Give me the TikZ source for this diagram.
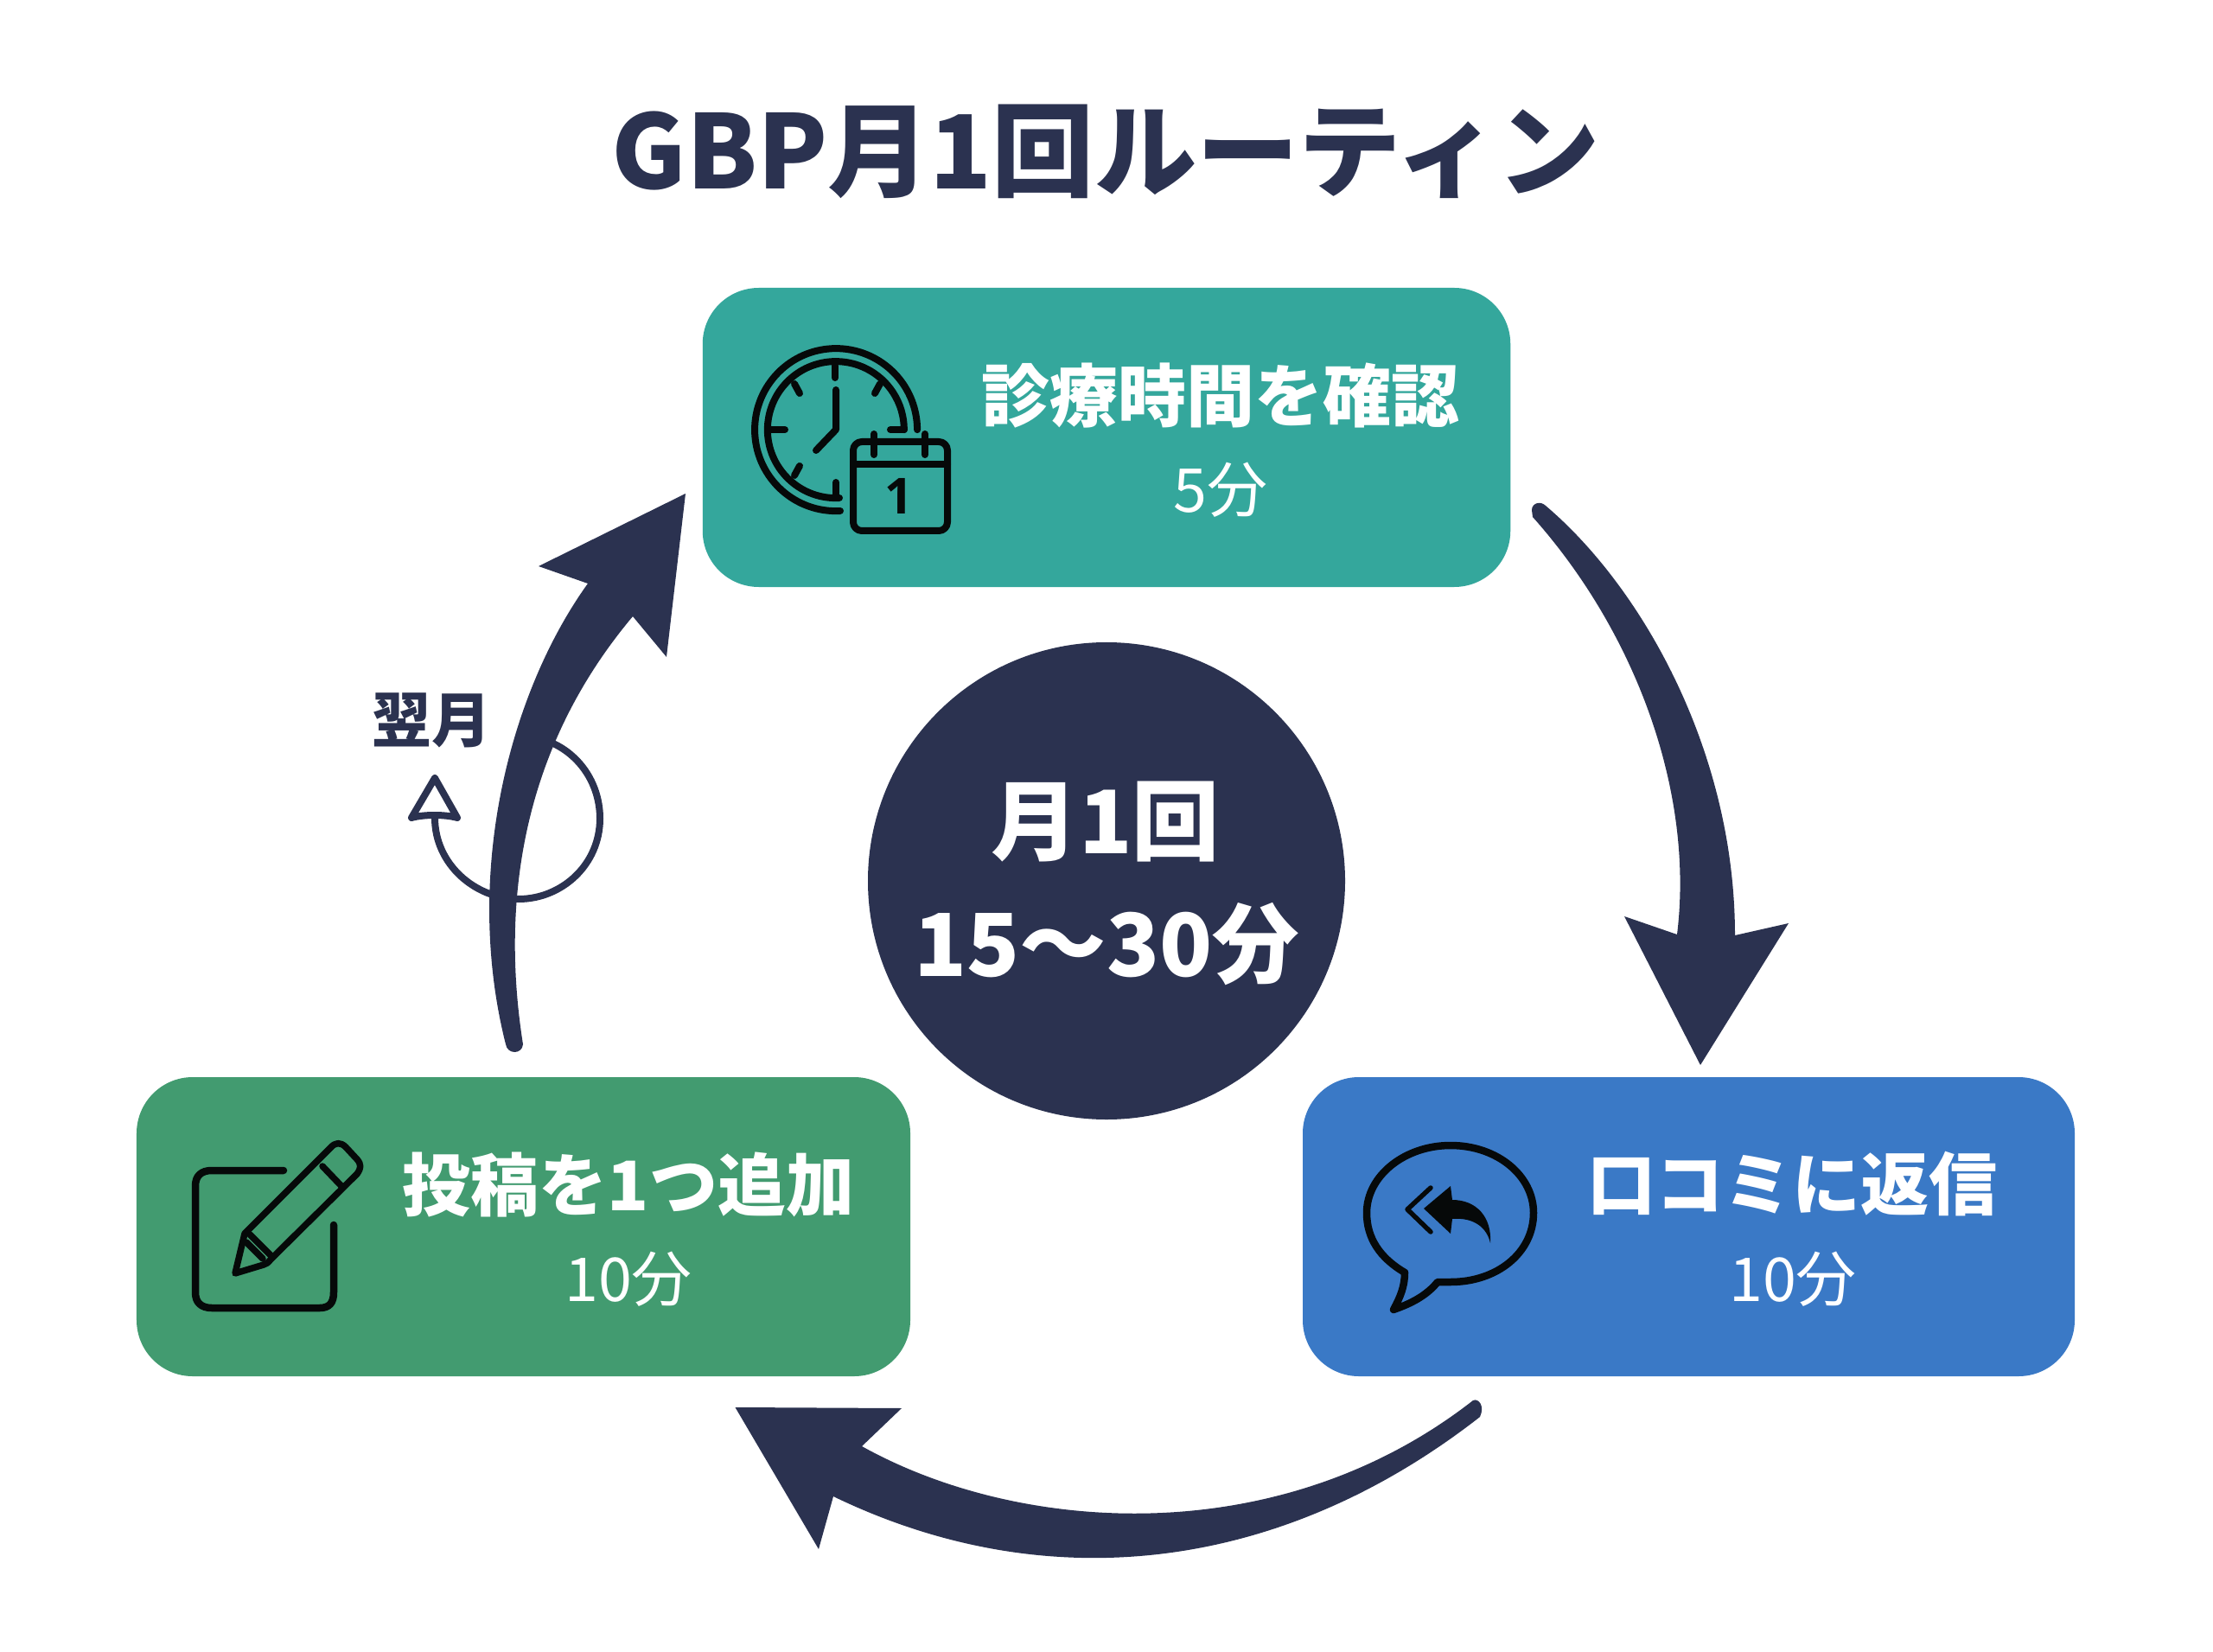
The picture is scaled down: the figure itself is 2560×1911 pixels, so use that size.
\documentclass[tikz,border=0pt]{standalone}
\usepackage{fontspec}
\setmainfont{Noto Sans CJK JP}
\newfontfamily\calfont{Open Sans}
\definecolor{navy}{HTML}{2B3250}
\definecolor{tealbox}{HTML}{34A79C}
\definecolor{bluebox}{HTML}{3A79C6}
\definecolor{greenbox}{HTML}{429B70}
\definecolor{ink}{HTML}{060909}
\tikzset{
  x=0.4pt,y=-0.4pt,
  stepbox/.style={draw=none,rounded corners=26pt,minimum width=#1,minimum height=138.4pt,inner sep=0pt},
  headtext/.style={text=white,font=\bfseries\fontsize{31.6}{32}\selectfont,inner sep=0pt},
  subtext/.style={text=white,font=\fontsize{28}{28}\selectfont,inner sep=0pt},
  icon/.style={draw=ink,line width=3.2pt,line cap=round,line join=round},
  thin loop/.style={draw=navy,line width=3.2pt,line join=round},
}
\begin{document}
\begin{tikzpicture}
\useasboundingbox (0,0) rectangle (2560,1911);
\fill[white] (0,0) rectangle (2560,1911);

\node[text=navy,font=\bfseries\fontsize{47.3}{48}\selectfont,inner sep=0pt] (title) at (1279,175) {GBP月1回ルーティン};

% boxes
\node[stepbox=373.8pt,fill=tealbox] (check) at (1280,506) {};
\node[stepbox=357.2pt,fill=bluebox] (reply) at (1953.5,1419) {};
\node[stepbox=358pt,fill=greenbox] (post) at (605.5,1419) {};
\node[headtext] (checkT) at (1412,458) {診療時間を確認};
\node[subtext] (checkS) at (1412,567) {5分};
\node[headtext] (replyT) at (2073,1370) {口コミに返信};
\node[subtext] (replyS) at (2074,1480) {10分};
\node[headtext] (postT) at (727,1371) {投稿を1つ追加};
\node[subtext] (postS) at (727,1480) {10分};

% centre
\node[circle,fill=navy,minimum size=220.8pt,inner sep=0pt] (hub) at (1280,1019) {};
\node[text=white,font=\bfseries\fontsize{40.5}{41}\selectfont,inner sep=0pt] (hubA) at (1279,951) {月1回};
\node[text=white,font=\bfseries\fontsize{40.2}{41}\selectfont,inner sep=0pt] (hubB) at (1280,1092) {15〜30分};

% small loop (behind the left arrow)
\coordinate (loopS) at (640,860);
\coordinate (loopE) at (503,946);
\draw[thin loop] (loopS) .. controls (672,875) and (694,908) .. (694,947) .. controls (694,1000) and (650,1040) .. (600,1040) .. controls (550,1040) and (503,1000) .. (loopE);
\draw[thin loop,fill=white] (503,900) -- (476,946) .. controls (490,942) and (515,942) .. (529,946) -- cycle;
\node[text=navy,font=\bfseries\fontsize{27.5}{28}\selectfont,inner sep=0pt] (next) at (499,833) {翌月};

% arrows: right
\coordinate (r1s) at (1772,590);
\coordinate (r1t) at (1967,1232);
\fill[navy] (r1s) .. controls (1772,582) and (1782,579) .. (1788,585)
  .. controls (1900,680) and (2007,870) .. (2007,1082)
  -- (2069,1068) -- (r1t) -- (1879,1060) -- (1940,1081)
  .. controls (1960,920) and (1895,735) .. (1773,598)
  -- cycle;
% arrows: bottom
\coordinate (r2s) at (1704,1620);
\coordinate (r2t) at (850.5,1628);
\fill[navy] (r2s) .. controls (1710,1617) and (1718,1626) .. (1712,1639)
  .. controls (1480,1820) and (1210,1850) .. (964,1731)
  -- (947,1792) -- (r2t) -- (1043,1629) -- (997,1673)
  .. controls (1180,1775) and (1480,1795) .. (r2s)
  -- cycle;
% arrows: left
\coordinate (r3s) at (585,1208);
\coordinate (r3t) at (793,571);
\fill[navy] (r3s) .. controls (587,1220) and (604,1220) .. (605,1208)
  .. controls (580,1050) and (600,870) .. (732,713)
  -- (771,760) -- (r3t) -- (623,655) -- (680,675)
  .. controls (590,800) and (535,1010) .. (r3s)
  -- cycle;

% clock + calendar icon
\draw[icon] (972,591) arc[start angle=87,end angle=360,radius=94];
\draw[icon] (971,576) arc[start angle=87,end angle=360,radius=79];
\draw[icon] (966,423) -- (966,437);
\draw[icon] (1030,497) -- (1046,497);
\draw[icon] (891,497) -- (908,497);
\draw[icon] (967,558) -- (967,576);
\draw[icon] (919,444) -- (925,455);
\draw[icon] (1018,444) -- (1012,455);
\draw[icon] (925,539) -- (919,550);
\draw[icon] (967,451) -- (967,497) -- (944,521);
\draw[icon,rounded corners=4pt] (987,511) rectangle (1096,614);
\draw[icon] (987,537) -- (1096,537);
\draw[icon] (1011,502) -- (1011,526);
\draw[icon] (1070,502) -- (1070,526);
\node[text=ink,font=\calfont\bfseries\fontsize{23}{23}\selectfont,inner sep=0pt] (calOne) at (1040,574) {1};

% pencil icon
\draw[icon,line width=3.4pt] (328,1354) -- (245,1354) .. controls (233,1354) and (226,1360) .. (226,1372) -- (226,1495) .. controls (226,1507) and (233,1513) .. (245,1513) -- (370,1513) .. controls (381,1513) and (386,1507) .. (386,1495) -- (386,1417);
\draw[icon,line width=3pt] (272,1473) -- (283,1427) -- (382,1328) .. controls (388,1321) and (394,1321) .. (400,1327) -- (413,1341) .. controls (418,1347) and (418,1351) .. (413,1358) -- (313,1457) .. controls (310,1461) and (308,1462) .. (305,1463) -- cycle;
\draw[icon,line width=3pt] (373,1349) -- (395,1372);
\draw[icon,line width=3pt] (289,1428) -- (313,1452);
\draw[icon,line width=3pt] (285,1437) -- (304,1456);

% speech bubble icon
\draw[icon,line width=3.4pt] (1625,1472) .. controls (1596,1455) and (1581,1432) .. (1581,1403) .. controls (1581,1360) and (1625,1325) .. (1678,1325) .. controls (1732,1325) and (1774,1360) .. (1774,1403) .. controls (1774,1449) and (1732,1483) .. (1678,1483) -- (1663,1483) .. controls (1650,1499) and (1632,1508) .. (1612,1515) .. controls (1620,1500) and (1625,1488) .. (1625,1472) -- cycle;
\fill[ink] (1647,1398) -- (1678,1372) -- (1680,1388) .. controls (1708,1388) and (1726,1408) .. (1724,1438) .. controls (1720,1420) and (1705,1408) .. (1680,1410) -- (1678,1427) -- cycle;
\draw[icon,line width=2.2pt] (1655,1374) -- (1628,1399) -- (1655,1425);
\end{tikzpicture}
\end{document}
